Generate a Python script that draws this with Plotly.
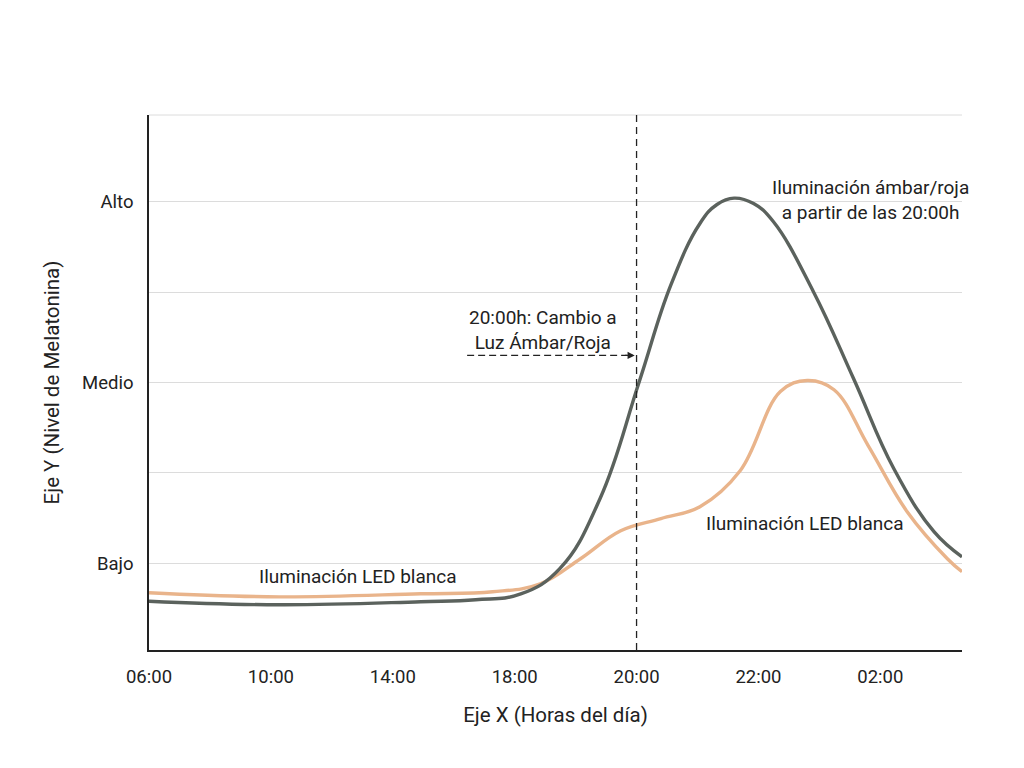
import plotly.graph_objects as go

# x = posición en la escala de horas: 0=06:00, 1=10:00, 2=14:00, 3=18:00, 4=20:00, 5=22:00, 6=02:00
hour_labels = ['06:00', '10:00', '14:00', '18:00', '20:00', '22:00', '02:00']
level_labels = ['Bajo', '', 'Medio', '', 'Alto']
level_vals = [1, 1.5, 2, 2.5, 3]

# melatonina con iluminación ámbar/roja a partir de las 20:00h
amber_x = [0, 1.07, 2.23, 2.68, 3.05, 3.37, 3.70, 4.02, 4.28, 4.52, 4.66, 4.80, 4.96,
           5.12, 5.45, 5.78, 6.11, 6.44, 6.67]
amber_y = [0.79, 0.77, 0.787, 0.798, 0.83, 0.97, 1.357, 2.0, 2.537, 2.88, 2.985, 3.02, 2.99,
           2.892, 2.504, 2.022, 1.524, 1.175, 1.036]

# melatonina con iluminación LED blanca
led_x = [0, 1.07, 2.23, 2.82, 3.21, 3.54, 3.87, 4.20, 4.52, 4.85, 5.18,
         5.40, 5.62, 5.90, 6.22, 6.55, 6.67]
led_y = [0.837, 0.814, 0.831, 0.842, 0.886, 1.025, 1.18, 1.247, 1.313, 1.512, 1.95,
         2.011, 1.96, 1.651, 1.285, 1.025, 0.953]

fnt = 'Roboto, Arial, sans-serif'
txt_color = '#222222'
grid_color = '#dcdcdc'

fig = go.Figure()
fig.add_trace(go.Scatter(x=led_x, y=led_y, mode='lines',
                         line=dict(color='#e9b48b', width=3.4, shape='spline', smoothing=1.1),
                         hoverinfo='skip', showlegend=False))
fig.add_trace(go.Scatter(x=amber_x, y=amber_y, mode='lines',
                         line=dict(color='#5b625d', width=3.4, shape='spline', smoothing=1.2),
                         hoverinfo='skip', showlegend=False))

# línea de rejilla superior
fig.add_shape(type='line', x0=0, x1=1, xref='paper', y0=1, y1=1, yref='paper', layer='below',
              line=dict(color=grid_color, width=1))
# línea vertical 20:00
fig.add_shape(type='line', x0=4, x1=4, y0=0, y1=1, yref='paper', layer='above',
              line=dict(color='#222222', width=1.3, dash='7px,5px'))
# flecha discontinua
fig.add_shape(type='line', x0=2.61, x1=3.92, y0=2.15, y1=2.15,
              line=dict(color='#222222', width=1.3, dash='7px,4px'))
fig.add_annotation(x=3.985, y=2.15, ax=-11, ay=0, text='', showarrow=True, arrowhead=2,
                   arrowsize=1.1, arrowwidth=1.3, arrowcolor='#222222')

fig.add_annotation(x=3.235, y=2.29, text='20:00h: Cambio a<br>Luz Ámbar/Roja', showarrow=False,
                   font=dict(family=fnt, size=19, color=txt_color))
fig.add_annotation(x=5.92, y=3.01, text='Iluminación ámbar/roja<br>a partir de las 20:00h', showarrow=False,
                   font=dict(family=fnt, size=19, color=txt_color))
fig.add_annotation(x=1.716, y=0.925, text='Iluminación LED blanca', showarrow=False,
                   font=dict(family=fnt, size=19, color=txt_color))
fig.add_annotation(x=5.386, y=1.219, text='Iluminación LED blanca', showarrow=False,
                   font=dict(family=fnt, size=19, color=txt_color))

fig.update_layout(
    width=1024, height=768,
    margin=dict(l=141, r=70, t=107, b=126),
    paper_bgcolor='white', plot_bgcolor='white',
    font=dict(family=fnt, size=18.5, color=txt_color),
    xaxis=dict(range=[0, 6.67], tickvals=list(range(len(hour_labels))), ticktext=hour_labels,
               showgrid=False, zeroline=False, showline=True, linecolor='#222222', linewidth=1.5,
               ticks='', ticklabelstandoff=9,
               title=dict(text='Eje X (Horas del día)', standoff=21, font=dict(size=20.5))),
    yaxis=dict(range=[0.52, 3.48], tickvals=level_vals, ticktext=level_labels,
               showgrid=True, gridcolor=grid_color, gridwidth=1, zeroline=False,
               showline=True, linecolor='#222222', linewidth=1.5, ticks='', ticklabelstandoff=10,
               title=dict(text='Eje Y (Nivel de Melatonina)', standoff=17, font=dict(size=20.5))),
)

fig.write_html('out.html')
